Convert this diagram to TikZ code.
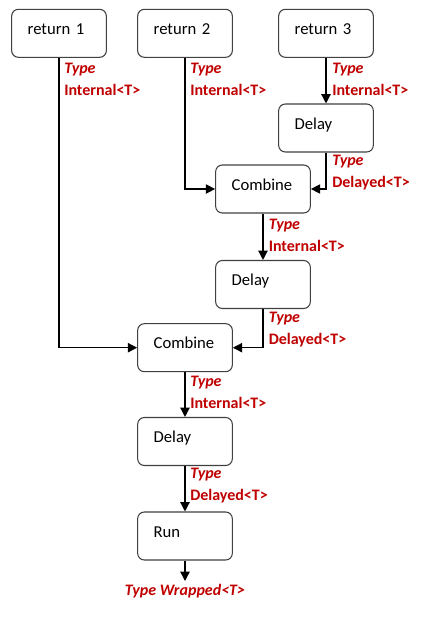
\documentclass[tikz,border=0pt]{standalone}
\usepackage{fontspec}
\setmainfont{Carlito}
\usetikzlibrary{arrows.meta}
\definecolor{lbl}{RGB}{192,0,0}
\begin{document}
\begin{tikzpicture}[x=0.75pt,y=-0.75pt,
  box/.style={draw=black!75, line width=0.8pt, rounded corners=5pt,
    minimum width=71pt, minimum height=36pt, text width=47pt, align=left,
    inner sep=0pt, font=\fontsize{12.5}{15}\selectfont, text height=6pt, text depth=4.5pt},
  arr/.style={draw=black, line width=1pt, -{Triangle[length=7pt,width=7pt]}},
  lab/.style={text=lbl, font=\bfseries\fontsize{12}{16.5}\selectfont, align=left,
    anchor=west, inner sep=0pt},
  fin/.style={text=lbl, font=\bfseries\itshape\fontsize{12}{16.5}\selectfont, inner sep=0pt}]
\useasboundingbox (0,0) rectangle (438,622);
\node[box] (r1) at (59,33.3) {return 1};
\node[box] (r2) at (185,33.3) {return 2};
\node[box] (r3) at (326,33.3) {return 3};
\node[box] (d1) at (326,128) {Delay};
\node[box] (c1) at (263,189) {Combine};
\node[box] (d2) at (263,284.5) {Delay};
\node[box] (c2) at (185,347.7) {Combine};
\node[box] (d3) at (185,441.5) {Delay};
\node[box] (run) at (185,536) {Run};
\coordinate (out) at (185,581);
\node[fin] (wrap) at (185,591) {Type Wrapped<T>};

\draw[arr] (r1.south) |- (c2.west);
\draw[arr] (r2.south) |- (c1.west);
\draw[arr] (r3) -- (d1);
\draw[arr] (d1.south) |- (c1.east);
\draw[arr] (c1) -- (d2);
\draw[arr] (d2.south) |- (c2.east);
\draw[arr] (c2) -- (d3);
\draw[arr] (d3) -- (run);
\draw[arr] (run) -- (out);

\node[lab] (l1) at (64,79) {\itshape Type\\Internal<T>};
\node[lab] (l2) at (190,79) {\itshape Type\\Internal<T>};
\node[lab] (l3) at (332,79) {\itshape Type\\Internal<T>};
\node[lab] (l4) at (332,172.5) {\itshape Type\\Delayed<T>};
\node[lab] (l5) at (268.5,235.5) {\itshape Type\\Internal<T>};
\node[lab] (l6) at (268.5,329.5) {\itshape Type\\Delayed<T>};
\node[lab] (l7) at (190,392) {\itshape Type\\Internal<T>};
\node[lab] (l8) at (190,486) {\itshape Type\\Delayed<T>};
\end{tikzpicture}
\end{document}
